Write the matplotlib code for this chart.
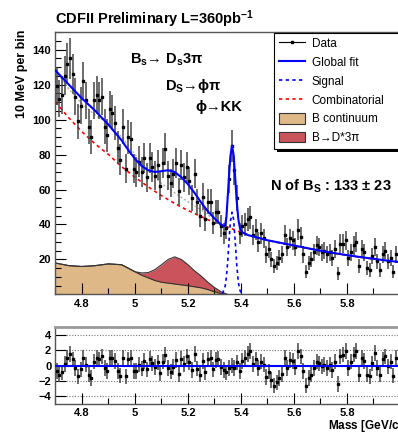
import numpy as np
import matplotlib
matplotlib.use("Agg")
import matplotlib.pyplot as plt
from matplotlib.lines import Line2D
from matplotlib.patches import Patch, Rectangle
from matplotlib.ticker import MultipleLocator

plt.rcParams['font.family'] = ['Liberation Sans', 'DejaVu Sans']
plt.rcParams['mathtext.fontset'] = 'custom'
plt.rcParams['mathtext.rm'] = 'Liberation Sans'
plt.rcParams['mathtext.bf'] = 'Liberation Sans:bold'
plt.rcParams['mathtext.it'] = 'Liberation Sans:italic'

# 10 MeV bins from 4.70 to 6.00 GeV
bin_lo = 4.70
bin_w = 0.01
counts = [119, 112, 114, 125, 132, 135, 126, 113, 99, 108,
          122, 111, 96, 90, 111, 114, 111, 113, 96, 91,
          106, 104, 98, 84, 77, 96, 72, 90, 89, 72,
          70, 76, 70, 78, 67, 78, 73, 68, 74, 62,
          75, 83, 68, 64, 69, 75, 59, 74, 67, 73,
          65, 55, 69, 53, 45, 56, 43, 53, 53, 41,
          47, 47, 39, 35, 38, 66, 85, 71, 55, 35,
          39, 40, 43, 44, 34, 37, 30, 35, 32, 23,
          26, 20, 16, 18, 21, 23, 34, 27, 32, 31,
          27, 37, 33, 23, 13, 18, 20, 24, 28, 27,
          24, 25, 23, 24, 21, 26, 12, 29, 29, 31,
          21, 24, 28, 30, 16, 26, 24, 15, 14, 22,
          27, 19, 14, 23, 25, 19, 21, 13, 23, 19]

residuals = [-0.7, -1.2, -0.9, 0.2, 1.0, 1.5, 0.8, -0.3, -1.4, -0.5,
             1.0, 0.1, -1.2, -1.6, 0.5, 1.0, 0.8, 1.2, -0.3, -0.7,
             1.0, 1.0, 0.6, -0.7, -1.3, 1.0, -1.4, 0.8, 1.0, -0.7,
             -0.7, 0.1, -0.4, 0.6, -0.5, 0.9, 0.3, -0.2, 0.4, -1.0,
             0.5, 1.4, -0.3, -0.8, -0.2, 0.7, -1.1, 0.9, 0.2, 1.2,
             0.4, -0.6, 1.5, -0.4, -1.2, 0.6, -0.9, 0.8, 1.0, -0.5,
             0.7, 0.9, -0.2, -0.6, -0.9, -0.3, 0.0, -0.3, 0.4, -0.7,
             0.6, 1.0, 1.5, 1.9, 0.2, 0.8, -0.3, 0.5, 0.1, -1.5,
             -0.8, -1.9, -2.6, -2.2, -1.6, -1.1, 1.0, -0.3, 0.7, 0.6,
             -0.2, 1.9, 1.2, -0.7, -2.6, -1.6, -1.2, -0.3, 0.5, 0.3,
             -0.1, 0.1, -0.3, 0.1, -0.6, 0.5, -2.4, 1.2, 1.4, 1.9,
             -0.3, 0.5, 1.4, 1.9, -1.2, 1.0, 0.6, -1.2, -1.4, 0.3,
             1.6, -0.3, -1.2, 0.8, 1.2, -0.1, 0.5, -1.3, 1.0, 0.2]

# global fit
fit_x = [4.70, 4.725, 4.75, 4.775, 4.80, 4.825, 4.85, 4.875, 4.90, 4.925,
         4.95, 4.975, 5.00, 5.025, 5.05, 5.075, 5.10, 5.125, 5.15, 5.175,
         5.20, 5.225, 5.25, 5.275, 5.30, 5.32, 5.335, 5.34, 5.345, 5.35,
         5.355, 5.36, 5.366, 5.372, 5.378, 5.384, 5.39, 5.396, 5.405, 5.425,
         5.45, 5.50, 5.55, 5.60, 5.65, 5.70, 5.75, 5.80, 5.85, 5.90,
         5.95, 6.00]
fit_y = [128, 124, 120, 116, 112, 108.5, 105, 101, 97, 92.5,
         88, 82.5, 77.5, 73.5, 71, 70, 70.5, 71, 70, 67,
         63, 58, 52.5, 47.5, 43.5, 40.5, 39, 39.5, 44, 56,
         68, 79, 85, 80, 67, 53, 43, 38, 35.5, 34,
         33, 31, 29.5, 28, 26.5, 25, 23.7, 22.5, 21.4, 20.4,
         19.4, 18.5]

# signal component
sig_x = [5.33, 5.34, 5.345, 5.35, 5.355, 5.36, 5.366, 5.372, 5.378, 5.384,
         5.39, 5.396, 5.40, 5.41]
sig_y = [0.5, 4.5, 10, 19, 31, 41.5, 47, 43, 31, 17,
         7, 2.5, 0.9, 0]

# combinatorial background
comb_x = [4.70, 4.75, 4.80, 4.85, 4.90, 4.95, 5.00, 5.05, 5.10, 5.15,
          5.20, 5.25, 5.30, 5.35, 5.40, 5.45, 5.50, 5.55, 5.60, 5.65,
          5.70, 5.75, 5.80, 5.85, 5.90, 5.95, 6.00]
comb_y = [110, 101, 93, 86, 80, 73, 67, 61.5, 56.5, 52,
          48, 44.5, 41, 38.5, 35.5, 33, 31, 29.3, 27.8, 26.3,
          24.9, 23.6, 22.4, 21.3, 20.3, 19.3, 18.4]

# B continuum and B -> D*3pi
bkg_x = [4.70, 4.75, 4.80, 4.85, 4.90, 4.95, 5.00, 5.025, 5.05, 5.075,
         5.10, 5.125, 5.15, 5.175, 5.20, 5.225, 5.25, 5.275, 5.30, 5.325,
         5.35]
bcont_y = [18, 16.5, 16, 16.5, 17.5, 17, 13, 11, 9.5, 8,
           7, 6.5, 6, 5.5, 5, 4.4, 3.8, 2.8, 1.5, 0.5,
           0]
dstar_y = [0, 0, 0, 0, 0, 0, 0, 1.3, 3, 6.2,
           10, 13.5, 15.5, 14.5, 12, 9.1, 6.7, 4.2, 2.5, 1,
           0]

centers = bin_lo + bin_w * (np.arange(len(counts)) + 0.5)
counts = np.array(counts)

fig = plt.figure(figsize=(3.98, 4.32), dpi=100)
ax = fig.add_axes([0.1394, 0.3183, 0.8656, 0.6076])
rax = fig.add_axes([0.1394, 0.0648, 0.8656, 0.1782])

tan = '#deb887'
dred = '#c9545b'
bc = np.array(bcont_y)
top = bc + np.array(dstar_y)
ax.fill_between(bkg_x, 0, top, color=dred, lw=0, zorder=1)
ax.fill_between(bkg_x, 0, bc, color=tan, lw=0, zorder=1)
ax.plot(bkg_x, top, color='#333333', lw=0.8, zorder=2)
ax.plot(bkg_x, bc, color='#333333', lw=0.8, zorder=2)

comb_b = np.interp(bkg_x, comb_x, comb_y) + bc
ax.plot(bkg_x, comb_b, color='#b8b0a0', lw=1.0, ls=(0, (1.5, 1.5)), zorder=2)
ax.plot(comb_x, comb_y, color='red', lw=1.2, ls=(0, (2, 2)), zorder=3)
ax.plot(sig_x, sig_y, color='blue', lw=1.2, ls=(0, (2, 2)), zorder=3)

ax.errorbar(centers, counts, yerr=np.sqrt(counts), fmt='s', ms=1.5,
            color='black', ecolor='#444444', elinewidth=1.1, capsize=0, zorder=4)
ax.plot(fit_x, fit_y, color='blue', lw=1.5, zorder=5)

ax.set_xlim(4.7, 6.0)
ax.set_ylim(0, 150)
ax.xaxis.set_major_locator(MultipleLocator(0.2))
ax.xaxis.set_minor_locator(MultipleLocator(0.1))
ax.yaxis.set_major_locator(MultipleLocator(20))
ax.yaxis.set_minor_locator(MultipleLocator(5))
ax.set_yticks([20, 40, 60, 80, 100, 120, 140])
ax.set_xticks([4.8, 5.0, 5.2, 5.4, 5.6, 5.8])
ax.set_xticklabels(['4.8', '5', '5.2', '5.4', '5.6', '5.8'])

for a in (ax, rax):
    a.tick_params(direction='in', which='major', length=8, width=0.8,
                  labelsize=8, pad=3, top=False, right=False)
    a.tick_params(direction='in', which='minor', length=4, width=0.8,
                  top=False, right=False)
    for lab in a.get_xticklabels() + a.get_yticklabels():
        lab.set_fontweight('bold')
    for s in a.spines.values():
        s.set_color('#555555')
        s.set_linewidth(1.0)

# legend, stretched to the right edge like the ROOT box
handles = [Line2D([], [], color='black', lw=0.8, marker='s', ms=1.5),
           Line2D([], [], color='blue', lw=1.5),
           Line2D([], [], color='blue', lw=1.2, ls=(0, (2, 2))),
           Line2D([], [], color='red', lw=1.2, ls=(0, (2, 2))),
           Patch(facecolor=tan, edgecolor='#333333', lw=0.8),
           Patch(facecolor=dred, edgecolor='#333333', lw=0.8)]
labels = ['Data', 'Global fit', 'Signal', 'Combinatorial', 'B continuum', 'B→D*3π']
leg = ax.legend(handles, labels, loc='upper left', mode='expand',
                bbox_to_anchor=(0.634, 0.5, 0.38, 0.496),
                frameon=True, fancybox=False, edgecolor='black', framealpha=1,
                fontsize=8.5, handlelength=2.2, handleheight=1.0, handletextpad=0.6,
                labelspacing=0.55, borderpad=0.4, borderaxespad=0)
leg.get_frame().set_linewidth(0.8)
leg.set_zorder(10)
ax.add_patch(Rectangle((0.642, 0.543), 0.4, 0.44, transform=ax.transAxes,
                       facecolor='black', edgecolor='none', zorder=9, clip_on=False))

ax.text(4.98, 134, r'B$_{\mathbf{s}}$→ D$_{\mathbf{s}}$3π', fontsize=10.5,
        fontweight='bold', va='center')
ax.text(5.113, 119, r'D$_{\mathbf{S}}$→ϕπ', fontsize=10.5, fontweight='bold', va='center')
ax.text(5.227, 107, 'ϕ→KK', fontsize=10.5, fontweight='bold', va='center')
ax.text(5.51, 62, r'N of B$_{\mathbf{S}}$ : 133 ± 23', fontsize=10.5,
        fontweight='bold', va='center')

fig.text(55 / 398, 1 - 19 / 432, r'CDFII Preliminary L=360pb$^{\mathbf{-1}}$',
         fontsize=10.5, fontweight='bold', va='center')
fig.text(22 / 398, 1 - 30 / 432, '10 MeV per bin', rotation=90, fontsize=9,
         fontweight='bold', va='top', ha='center')

# residual panel
for yv in (-4, -2, 2, 4):
    rax.axhline(yv, color='#777777', lw=0.8, ls=(0, (1, 1.5)), zorder=1)
rax.errorbar(centers, residuals, yerr=1.0, fmt='s', ms=1.5, color='black',
             ecolor='#444444', elinewidth=1.1, capsize=0, zorder=3)
rax.axhline(0, color='blue', lw=1.5, zorder=4)
rax.set_xlim(4.7, 6.0)
rax.set_ylim(-5, 5)
rax.set_yticks([-4, -2, 0, 2, 4])
rax.set_xticks([4.8, 5.0, 5.2, 5.4, 5.6, 5.8])
rax.set_xticklabels(['4.8', '5', '5.2', '5.4', '5.6', '5.8'])
rax.xaxis.set_minor_locator(MultipleLocator(0.1))
for lab in rax.get_xticklabels() + rax.get_yticklabels():
    lab.set_fontweight('bold')
rax.spines['top'].set_linewidth(2.0)
rax.spines['top'].set_color('#999999')
fig.text(328 / 398, 1 - 426 / 432, 'Mass [GeV/c$^{\mathbf{2}}$]', fontsize=8.5,
         fontweight='bold', va='center')

fig.savefig('out.png', dpi=100)
